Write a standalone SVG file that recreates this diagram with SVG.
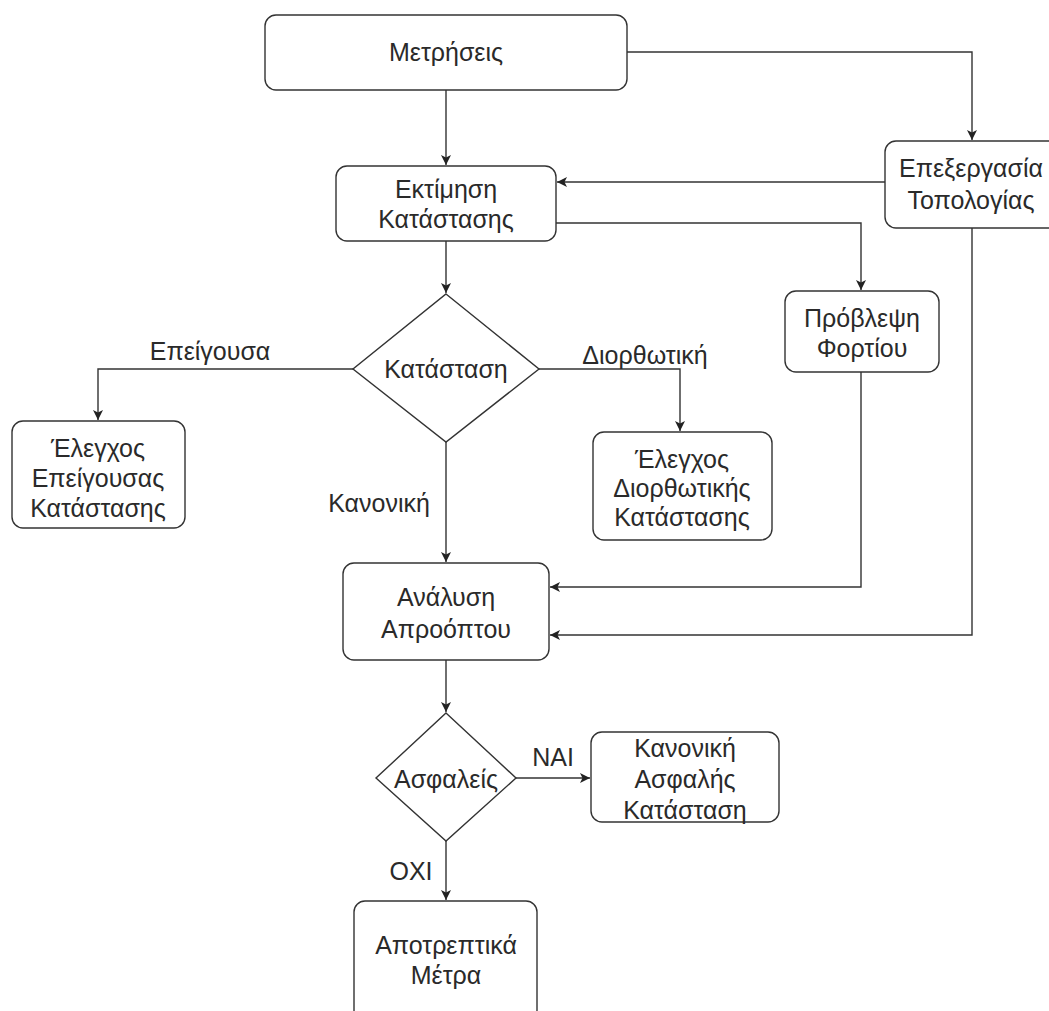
<svg xmlns="http://www.w3.org/2000/svg" width="1049" height="1011" viewBox="0 0 1049 1011">
<defs>
<marker id="arr" viewBox="0 0 10 10" refX="10" refY="5" markerWidth="10" markerHeight="10" markerUnits="userSpaceOnUse" orient="auto">
<path d="M0,0 L10,5 L0,10 L2.5,5 Z" fill="#222"/>
</marker>
<style>
.box{fill:#fff;stroke:#333;stroke-width:1.4}
.t{font-family:"Liberation Sans",Arial,sans-serif;font-size:25px;fill:#2a2a2a;text-anchor:middle;dominant-baseline:central}
.c{fill:none;stroke:#333;stroke-width:1.4}
</style>
</defs>
<rect width="1049" height="1011" fill="#fff"/>
<g id="connectors">
<path class="c" d="M446,90 V165" marker-end="url(#arr)"/>
<path class="c" d="M627,52 H972 V140" marker-end="url(#arr)"/>
<path class="c" d="M885,182 H557" marker-end="url(#arr)"/>
<path class="c" d="M556,223 H861 V290" marker-end="url(#arr)"/>
<path class="c" d="M446,241 V293" marker-end="url(#arr)"/>
<path class="c" d="M353,369 H98 V420" marker-end="url(#arr)"/>
<path class="c" d="M539,369 H680 V431" marker-end="url(#arr)"/>
<path class="c" d="M446,442 V562" marker-end="url(#arr)"/>
<path class="c" d="M861,372 V587 H550" marker-end="url(#arr)"/>
<path class="c" d="M972,228 V635 H550" marker-end="url(#arr)"/>
<path class="c" d="M446,660 V712" marker-end="url(#arr)"/>
<path class="c" d="M516,778 H590" marker-end="url(#arr)"/>
<path class="c" d="M446,841 V900" marker-end="url(#arr)"/>
<text class="t" x="210" y="351">Επείγουσα</text>
<text class="t" x="645" y="355">Διορθωτική</text>
<text class="t" x="379" y="503">Κανονική</text>
<text class="t" x="553" y="757">NAI</text>
<text class="t" x="411" y="871">ΟΧΙ</text>
</g>
<g id="metriseis">
<rect class="box" x="265" y="15" width="362" height="75" rx="11"/>
<text class="t" x="446" y="52">Μετρήσεις</text>
</g>
<g id="ektimisi">
<rect class="box" x="336" y="166" width="220" height="75" rx="11"/>
<text class="t" x="446" y="189">Εκτίμηση</text>
<text class="t" x="446" y="219">Κατάστασης</text>
</g>
<g id="epexergasia">
<rect class="box" x="885" y="141" width="175" height="87" rx="11"/>
<text class="t" x="971" y="168">Επεξεργασία</text>
<text class="t" x="971" y="200">Τοπολογίας</text>
</g>
<g id="provlepsi">
<rect class="box" x="785" y="291" width="154" height="81" rx="11"/>
<text class="t" x="862" y="318">Πρόβλεψη</text>
<text class="t" x="862" y="348">Φορτίου</text>
</g>
<g id="katastasi">
<polygon class="box" points="446,294 539,369 446,442 353,369"/>
<text class="t" x="446" y="369">Κατάσταση</text>
</g>
<g id="elegxos-epeigousas">
<rect class="box" x="12" y="421" width="173" height="107" rx="11"/>
<text class="t" x="98" y="448">Έλεγχος</text>
<text class="t" x="98" y="478">Επείγουσας</text>
<text class="t" x="98" y="508">Κατάστασης</text>
</g>
<g id="elegxos-diorthotikis">
<rect class="box" x="593" y="432" width="179" height="108" rx="11"/>
<text class="t" x="682" y="459">Έλεγχος</text>
<text class="t" x="682" y="488">Διορθωτικής</text>
<text class="t" x="682" y="517">Κατάστασης</text>
</g>
<g id="analysi">
<rect class="box" x="343" y="563" width="206" height="97" rx="11"/>
<text class="t" x="446" y="597">Ανάλυση</text>
<text class="t" x="446" y="629">Απροόπτου</text>
</g>
<g id="asfaleis">
<polygon class="box" points="446,713 516,778 446,841 376,778"/>
<text class="t" x="446" y="779">Ασφαλείς</text>
</g>
<g id="kanoniki-asfalis">
<rect class="box" x="591" y="732" width="188" height="90" rx="11"/>
<text class="t" x="685" y="748">Κανονική</text>
<text class="t" x="685" y="779">Ασφαλής</text>
<text class="t" x="685" y="810">Κατάσταση</text>
</g>
<g id="apotreptika">
<rect class="box" x="354" y="901" width="183" height="120" rx="11"/>
<text class="t" x="446" y="945">Αποτρεπτικά</text>
<text class="t" x="446" y="975">Μέτρα</text>
</g>
</svg>
